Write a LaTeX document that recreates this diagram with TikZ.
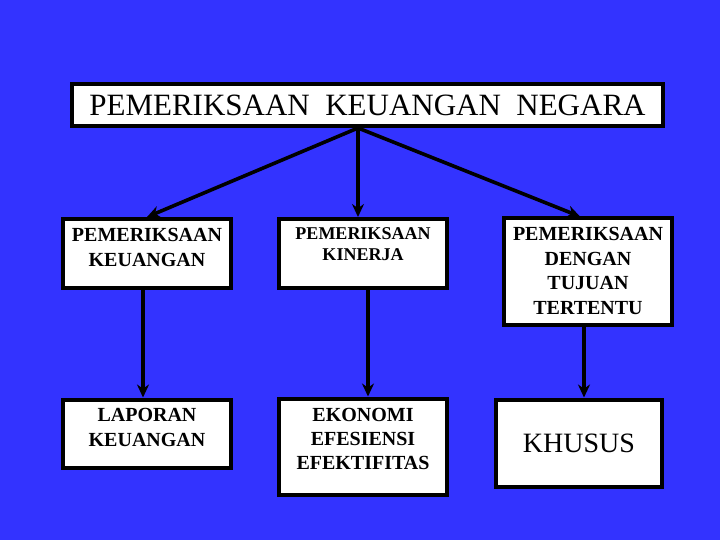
\documentclass[tikz,border=0pt]{standalone}
\usepackage{fontspec}
\setmainfont{Liberation Serif}
\usepackage{tikz}
\usetikzlibrary{arrows.meta,positioning}
\definecolor{bgblue}{RGB}{51,51,255}

\begin{document}
\begin{tikzpicture}[x=1pt,y=-1pt,line width=4pt,
  box/.style={draw=black,fill=white,inner sep=0pt,minimum width=168pt},
  txt/.style={align=center,inner sep=0pt,font=\bfseries\fontsize{20}{25}\selectfont},
  link/.style={line width=3.6pt,-{Stealth[length=13pt,width=12pt]}}]
\fill[bgblue] (0,0) rectangle (720,540);

\node[box,minimum width=591pt,minimum height=42pt,font=\fontsize{31}{33}\selectfont] (pkn) at (367.5,105) {PEMERIKSAAN\ \ KEUANGAN\ \ NEGARA};

\node[box,minimum height=69pt] (pk) at (147,253.5) {};
\node[txt,below=9pt of pk.north] (pkt) {PEMERIKSAAN\\KEUANGAN};

\node[box,minimum height=69pt] (pkin) at (363,253.5) {};
\node[txt,font=\bfseries\fontsize{18}{21}\selectfont,below=9pt of pkin.north] (pkint) {PEMERIKSAAN\\KINERJA};

\node[box,minimum height=106pt] (pdtt) at (588,271.5) {};
\node[txt,font=\bfseries\fontsize{20}{24.5}\selectfont,below=9pt of pdtt.north] (pdttt) {PEMERIKSAAN\\DENGAN\\TUJUAN\\TERTENTU};

\node[box,minimum height=68pt] (lk) at (147,433.5) {};
\node[txt,below=9pt of lk.north] (lkt) {LAPORAN\\KEUANGAN};

\node[box,minimum height=96pt] (eee) at (363,446.5) {};
\node[txt,font=\bfseries\fontsize{20}{24}\selectfont,below=10pt of eee.north] (eeet) {EKONOMI\\EFESIENSI\\EFEKTIFITAS};

\node[box,minimum width=166pt,minimum height=87pt,font=\fontsize{28}{30}\selectfont] (khs) at (579,443) {KHUSUS};

% panah dari kotak atas
\draw[link] ([xshift=-9.5pt]pkn.south) -- (pk.north);
\draw[link] ([xshift=-9.5pt]pkn.south) -- ([xshift=-5pt]pkin.north);
\draw[link] ([xshift=-9.5pt]pkn.south) -- ([xshift=-8pt]pdtt.north);

% panah ke baris bawah
\draw[link] ([xshift=-4pt]pk.south) -- ([xshift=-4pt]lk.north);
\draw[link] ([xshift=5pt]pkin.south) -- ([xshift=5pt]eee.north);
\draw[link] ([xshift=-4pt]pdtt.south) -- ([xshift=5pt]khs.north);

\end{tikzpicture}
\end{document}
